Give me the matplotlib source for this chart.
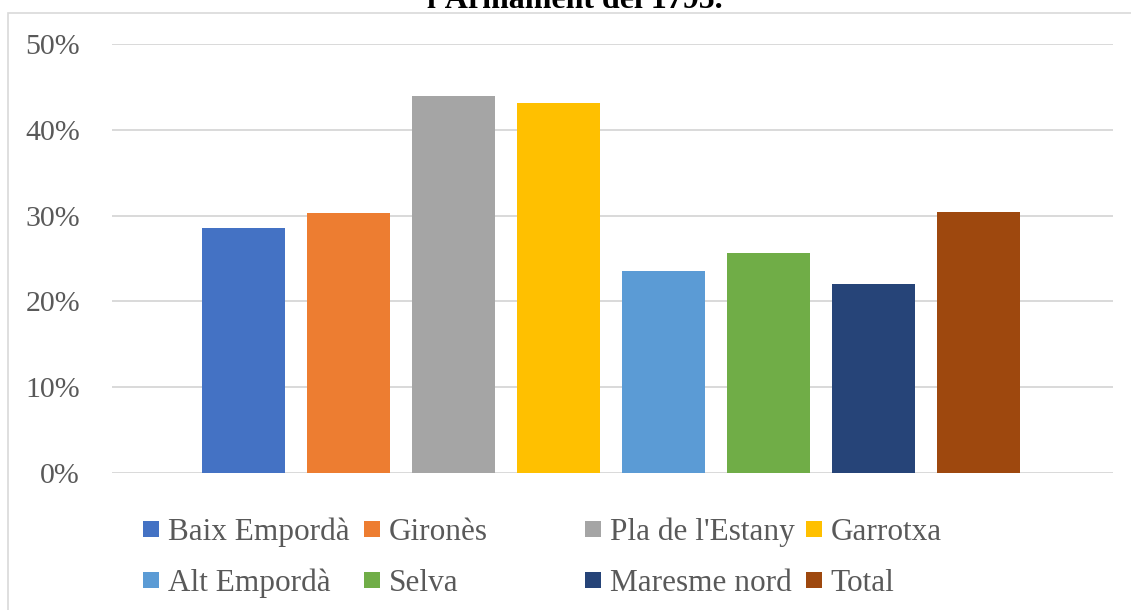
import matplotlib
matplotlib.use("Agg")
import matplotlib.pyplot as plt
from matplotlib.patches import Rectangle
from matplotlib.ticker import PercentFormatter

categories = ["Baix Empordà", "Gironès", "Pla de l'Estany", "Garrotxa",
              "Alt Empordà", "Selva", "Maresme nord", "Total"]
values = [0.285, 0.303, 0.439, 0.431, 0.235, 0.256, 0.220, 0.304]
colors = ["#4472C4", "#ED7D31", "#A5A5A5", "#FFC000",
          "#5B9BD5", "#70AD47", "#264478", "#9E480E"]
yticks = [0, 0.1, 0.2, 0.3, 0.4, 0.5]
title_text = "l'Armament del 1795."

W, H = 1131, 610
fig = plt.figure(figsize=(W / 100, H / 100), dpi=100)
serif = ["Liberation Serif", "DejaVu Serif"]
txt_color = "#595959"
grid_color = "#D9D9D9"

# outer chart border (partially cut off right/bottom)
fig.patches.append(Rectangle((8 / W, -0.05), 1.1, (H - 13) / H + 0.05,
                             transform=fig.transFigure, fill=False,
                             edgecolor=grid_color, linewidth=1.2))

# title (cut off at top, as in the reference)
fig.text(575 / W, 1 - 8.5 / H, title_text, ha="center", va="baseline",
         fontsize=23, fontweight="bold", family=serif, color="black")

ax = fig.add_axes([112 / W, 1 - 473 / H, (1113 - 112) / W, (473 - 44) / H])
x = list(range(len(categories)))
ax.bar(x, values, width=83 / 105, color=colors, zorder=3)
center = 3.5 + 2 / 105
ax.set_xlim(center - 1001 / 210, center + 1001 / 210)
ax.set_ylim(0, 0.5)
ax.set_yticks(yticks)
ax.yaxis.set_major_formatter(PercentFormatter(1.0, decimals=0))
ax.grid(axis="y", color=grid_color, linewidth=1.4, zorder=0)
ax.set_xticks([])
for s in ax.spines.values():
    s.set_visible(False)
ax.tick_params(axis="y", length=0, pad=23, labelsize=21.5, labelcolor=txt_color)
for lab in ax.get_yticklabels():
    lab.set_family(serif)
ax.set_facecolor("none")

# legend: 2 rows x 4 equal-width columns (Excel style)
col_x = [143, 364, 585, 806]
row_y = [529, 580]
sq = 15.5
for i, (name, c) in enumerate(zip(categories, colors)):
    cx = col_x[i % 4]
    cy = row_y[i // 4]
    fig.patches.append(Rectangle((cx / W, 1 - (cy + sq / 2) / H), sq / W, sq / H,
                                 transform=fig.transFigure, facecolor=c,
                                 edgecolor="none"))
    fig.text((cx + sq + 9) / W, 1 - cy / H, name, ha="left", va="center_baseline",
             fontsize=22.5, family=serif, color=txt_color)

fig.savefig("out.png", dpi=100)
